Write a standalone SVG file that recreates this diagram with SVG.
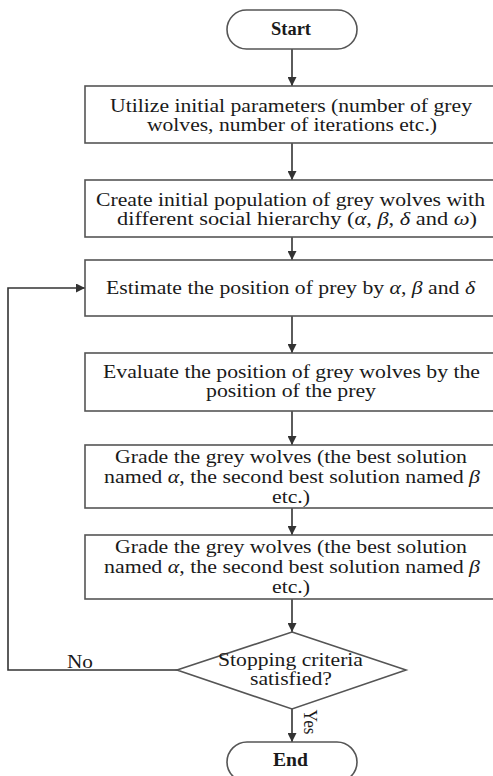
<svg xmlns="http://www.w3.org/2000/svg" width="493" height="776" viewBox="0 0 493 776">
<defs>
<marker id="ah" viewBox="0 0 10 10" refX="10" refY="5" markerWidth="9" markerHeight="9" markerUnits="userSpaceOnUse" orient="auto">
<path d="M0,0 L10,5 L0,10 z" fill="#333"/>
</marker>
<style>
.box{fill:#fff;stroke:#555;stroke-width:1.6}
.t{font-family:"Liberation Serif","Times New Roman",serif;font-size:18px;fill:#1a1a1a;text-anchor:middle}
.b{font-weight:bold}
.i{font-style:italic}
.c{fill:none;stroke:#333;stroke-width:1.6;marker-end:url(#ah)}
</style>
</defs>
<rect width="493" height="776" fill="#fff"/>
<g id="connectors">
<line class="c" x1="292" y1="49" x2="292" y2="86"/>
<line class="c" x1="292" y1="143" x2="292" y2="180"/>
<line class="c" x1="292" y1="237" x2="292" y2="260"/>
<line class="c" x1="292" y1="316" x2="292" y2="353"/>
<line class="c" x1="292" y1="411" x2="292" y2="445"/>
<line class="c" x1="292" y1="508" x2="292" y2="535"/>
<line class="c" x1="292" y1="599" x2="292" y2="632"/>
<line class="c" x1="292" y1="709" x2="292" y2="742"/>
<polyline class="c" points="177,670 8,670 8,288 85,288"/>
<text class="t" x="80" y="668" textLength="26" lengthAdjust="spacingAndGlyphs">No</text>
<text class="t" transform="translate(304,722) rotate(90)" x="0" y="0" textLength="25" lengthAdjust="spacingAndGlyphs">Yes</text>
</g>
<g id="start">
<rect class="box" x="227" y="10" width="130" height="39" rx="19.5"/>
<text class="t b" x="291" y="35" textLength="40" lengthAdjust="spacingAndGlyphs">Start</text>
</g>
<g id="n1">
<rect class="box" x="85" y="86" width="420" height="57"/>
<text class="t" x="291" y="112" textLength="362" lengthAdjust="spacingAndGlyphs">Utilize initial parameters (number of grey</text>
<text class="t" x="292" y="131" textLength="290" lengthAdjust="spacingAndGlyphs">wolves, number of iterations etc.)</text>
</g>
<g id="n2">
<rect class="box" x="85" y="180" width="420" height="57"/>
<text class="t" x="290.5" y="206" textLength="389" lengthAdjust="spacingAndGlyphs">Create initial population of grey wolves with</text>
<text class="t" x="297" y="225" textLength="360" lengthAdjust="spacingAndGlyphs">different social hierarchy (<tspan class="i">α</tspan>, <tspan class="i">β</tspan>, <tspan class="i">δ</tspan> and <tspan class="i">ω</tspan>)</text>
</g>
<g id="n3">
<rect class="box" x="85" y="260" width="420" height="56"/>
<text class="t" x="290.5" y="294" textLength="369" lengthAdjust="spacingAndGlyphs">Estimate the position of prey by <tspan class="i">α</tspan>, <tspan class="i">β</tspan> and <tspan class="i">δ</tspan></text>
</g>
<g id="n4">
<rect class="box" x="85" y="353" width="420" height="58"/>
<text class="t" x="291.5" y="378" textLength="377" lengthAdjust="spacingAndGlyphs">Evaluate the position of grey wolves by the</text>
<text class="t" x="291" y="397" textLength="170" lengthAdjust="spacingAndGlyphs">position of the prey</text>
</g>
<g id="n5">
<rect class="box" x="85" y="445" width="420" height="63"/>
<text class="t" x="291" y="463" textLength="352" lengthAdjust="spacingAndGlyphs">Grade the grey wolves (the best solution</text>
<text class="t" x="292" y="483" textLength="376" lengthAdjust="spacingAndGlyphs">named <tspan class="i">α</tspan>, the second best solution named <tspan class="i">β</tspan></text>
<text class="t" x="291" y="503" textLength="38" lengthAdjust="spacingAndGlyphs">etc.)</text>
</g>
<g id="n6">
<rect class="box" x="85" y="535" width="420" height="64"/>
<text class="t" x="291" y="553" textLength="352" lengthAdjust="spacingAndGlyphs">Grade the grey wolves (the best solution</text>
<text class="t" x="292" y="573" textLength="376" lengthAdjust="spacingAndGlyphs">named <tspan class="i">α</tspan>, the second best solution named <tspan class="i">β</tspan></text>
<text class="t" x="291" y="593" textLength="38" lengthAdjust="spacingAndGlyphs">etc.)</text>
</g>
<g id="decision">
<polygon class="box" points="292,632 406,670 292,709 177,670"/>
<text class="t" x="290.5" y="666" textLength="145" lengthAdjust="spacingAndGlyphs">Stopping criteria</text>
<text class="t" x="291" y="685" textLength="82" lengthAdjust="spacingAndGlyphs">satisfied?</text>
</g>
<g id="end">
<rect class="box" x="227" y="742" width="130" height="40" rx="20"/>
<text class="t b" x="290.5" y="766" textLength="35" lengthAdjust="spacingAndGlyphs">End</text>
</g>
</svg>
